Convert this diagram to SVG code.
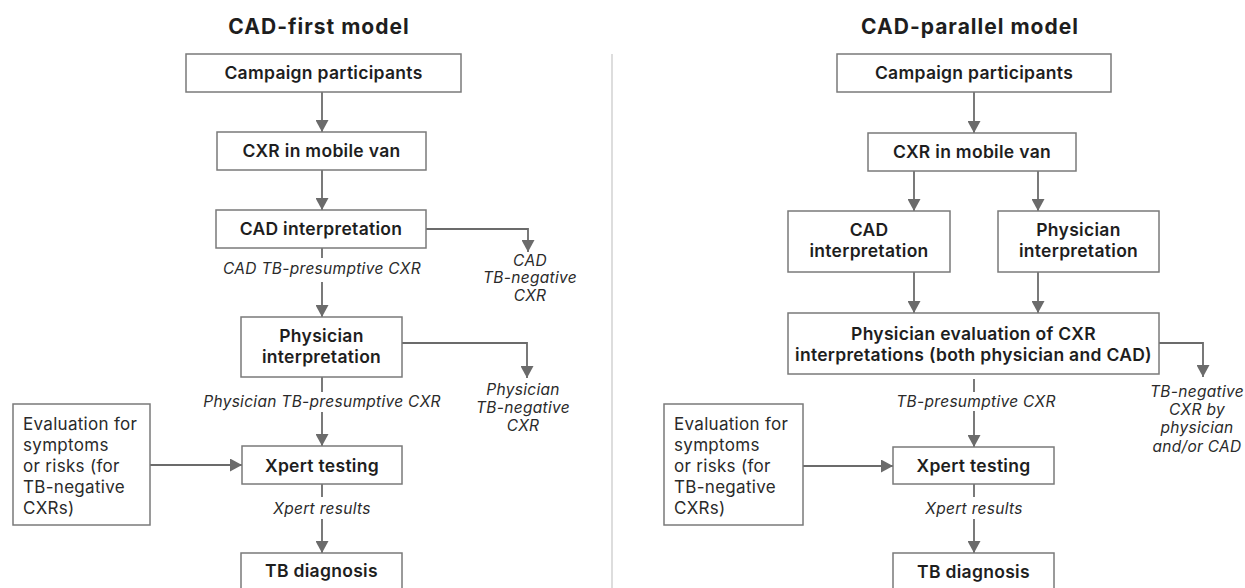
<svg xmlns="http://www.w3.org/2000/svg" width="1245" height="588" viewBox="0 0 1245 588">
<style>
  .box { fill: #ffffff; stroke: #7a7a7a; stroke-width: 1.5; }
  .lbl { font-family: Inter, "DejaVu Sans", sans-serif; font-weight: 600; font-size: 17.5px; letter-spacing: 0.3px; fill: #1e1e1e; text-anchor: middle; }
  .ttl { font-family: Inter, "DejaVu Sans", sans-serif; font-weight: 700; font-size: 21px; letter-spacing: 1px; fill: #1e1e1e; text-anchor: middle; }
  .ev { font-family: Inter, "DejaVu Sans", sans-serif; font-weight: 400; font-size: 17px; letter-spacing: 0.3px; fill: #2a2a2a; }
  .it { font-family: Inter, "DejaVu Sans", sans-serif; font-style: italic; font-weight: 400; font-size: 15.5px; letter-spacing: 0.3px; fill: #2a2a2a; text-anchor: middle; }
  .cn { fill: none; stroke: #6b6b6b; stroke-width: 1.8; }
  .div { stroke: #d2d2d2; stroke-width: 1.5; }
</style>
<defs>
  <marker id="arr" viewBox="0 0 12 13" refX="12" refY="6.5" markerWidth="12" markerHeight="13" markerUnits="userSpaceOnUse" orient="auto">
    <path d="M0,0 L12,6.5 L0,13 Z" fill="#6b6b6b"/>
  </marker>
</defs>
<rect x="0" y="0" width="1245" height="588" fill="#ffffff"/>

<line class="div" x1="612" y1="54" x2="612" y2="588"/>

<text class="ttl" x="319" y="34">CAD-first model</text>
<text class="ttl" x="970" y="34">CAD-parallel model</text>

<g id="connectors">
  <path class="cn" d="M322,92 V132" marker-end="url(#arr)"/>
  <path class="cn" d="M322,170 V210" marker-end="url(#arr)"/>
  <path class="cn" d="M426,229 H528 V252" marker-end="url(#arr)"/>
  <path class="cn" d="M322,248 V258"/>
  <path class="cn" d="M322,282 V317" marker-end="url(#arr)"/>
  <path class="cn" d="M402,343 H527 V378" marker-end="url(#arr)"/>
  <path class="cn" d="M322,377 V392"/>
  <path class="cn" d="M322,412 V446" marker-end="url(#arr)"/>
  <path class="cn" d="M150,465 H242" marker-end="url(#arr)"/>
  <path class="cn" d="M322,484 V497"/>
  <path class="cn" d="M322,519 V553" marker-end="url(#arr)"/>

  <path class="cn" d="M974,92 V133" marker-end="url(#arr)"/>
  <path class="cn" d="M914,171 V211" marker-end="url(#arr)"/>
  <path class="cn" d="M1038,171 V211" marker-end="url(#arr)"/>
  <path class="cn" d="M914,272 V313" marker-end="url(#arr)"/>
  <path class="cn" d="M1038,272 V313" marker-end="url(#arr)"/>
  <path class="cn" d="M1159,343 H1203 V377" marker-end="url(#arr)"/>
  <path class="cn" d="M974,379 V392"/>
  <path class="cn" d="M974,411 V447" marker-end="url(#arr)"/>
  <path class="cn" d="M803,466 H893" marker-end="url(#arr)"/>
  <path class="cn" d="M974,484 V497"/>
  <path class="cn" d="M974,519 V553" marker-end="url(#arr)"/>

  <text class="it" x="530" y="266">CAD</text>
  <text class="it" x="530" y="283">TB-negative</text>
  <text class="it" x="530" y="301">CXR</text>
  <text class="it" x="322" y="274">CAD TB-presumptive CXR</text>
  <text class="it" x="523" y="395">Physician</text>
  <text class="it" x="523" y="413">TB-negative</text>
  <text class="it" x="523" y="431">CXR</text>
  <text class="it" x="322" y="407">Physician TB-presumptive CXR</text>
  <text class="it" x="322" y="514">Xpert results</text>

  <text class="it" x="1197" y="397">TB-negative</text>
  <text class="it" x="1197" y="415">CXR by</text>
  <text class="it" x="1197" y="433">physician</text>
  <text class="it" x="1197" y="452">and/or CAD</text>
  <text class="it" x="976" y="407">TB-presumptive CXR</text>
  <text class="it" x="974" y="514">Xpert results</text>
</g>

<!-- Left: CAD-first -->
<g id="l-campaign">
  <rect class="box" x="186" y="54" width="275" height="38"/>
  <text class="lbl" x="323.5" y="79">Campaign participants</text>
</g>
<g id="l-cxr">
  <rect class="box" x="217" y="132" width="209" height="38"/>
  <text class="lbl" x="321.5" y="157">CXR in mobile van</text>
</g>
<g id="l-cad">
  <rect class="box" x="216" y="210" width="210" height="38"/>
  <text class="lbl" x="321" y="235">CAD interpretation</text>
</g>
<g id="l-phys">
  <rect class="box" x="241" y="317" width="161" height="60"/>
  <text class="lbl" x="321.5" y="342">Physician</text>
  <text class="lbl" x="321.5" y="363">interpretation</text>
</g>
<g id="l-xpert">
  <rect class="box" x="242" y="446" width="160" height="38"/>
  <text class="lbl" x="322" y="472">Xpert testing</text>
</g>
<g id="l-eval">
  <rect class="box" x="13" y="404" width="137" height="121"/>
  <text class="ev" x="23" y="430">Evaluation for</text>
  <text class="ev" x="23" y="451">symptoms</text>
  <text class="ev" x="23" y="472">or risks (for</text>
  <text class="ev" x="23" y="493">TB-negative</text>
  <text class="ev" x="23" y="514">CXRs)</text>
</g>
<g id="l-tb">
  <rect class="box" x="241" y="553" width="161" height="50"/>
  <text class="lbl" x="321.5" y="577">TB diagnosis</text>
</g>

<!-- Right: CAD-parallel -->
<g id="r-campaign">
  <rect class="box" x="837" y="54" width="274" height="38"/>
  <text class="lbl" x="974" y="79">Campaign participants</text>
</g>
<g id="r-cxr">
  <rect class="box" x="868" y="133" width="208" height="38"/>
  <text class="lbl" x="972" y="158">CXR in mobile van</text>
</g>
<g id="r-cad">
  <rect class="box" x="788" y="211" width="162" height="61"/>
  <text class="lbl" x="869" y="236">CAD</text>
  <text class="lbl" x="869" y="257">interpretation</text>
</g>
<g id="r-phys">
  <rect class="box" x="998" y="211" width="161" height="61"/>
  <text class="lbl" x="1078.5" y="236">Physician</text>
  <text class="lbl" x="1078.5" y="257">interpretation</text>
</g>
<g id="r-eval-both">
  <rect class="box" x="788" y="313" width="371" height="61"/>
  <text class="lbl" x="973.5" y="340">Physician evaluation of CXR</text>
  <text class="lbl" x="973.5" y="361">interpretations (both physician and CAD)</text>
</g>
<g id="r-eval">
  <rect class="box" x="664" y="404" width="139" height="121"/>
  <text class="ev" x="674" y="430">Evaluation for</text>
  <text class="ev" x="674" y="451">symptoms</text>
  <text class="ev" x="674" y="472">or risks (for</text>
  <text class="ev" x="674" y="493">TB-negative</text>
  <text class="ev" x="674" y="514">CXRs)</text>
</g>
<g id="r-xpert">
  <rect class="box" x="893" y="447" width="161" height="37"/>
  <text class="lbl" x="973.5" y="472">Xpert testing</text>
</g>
<g id="r-tb">
  <rect class="box" x="893" y="553" width="161" height="50"/>
  <text class="lbl" x="973.5" y="578">TB diagnosis</text>
</g>
</svg>
